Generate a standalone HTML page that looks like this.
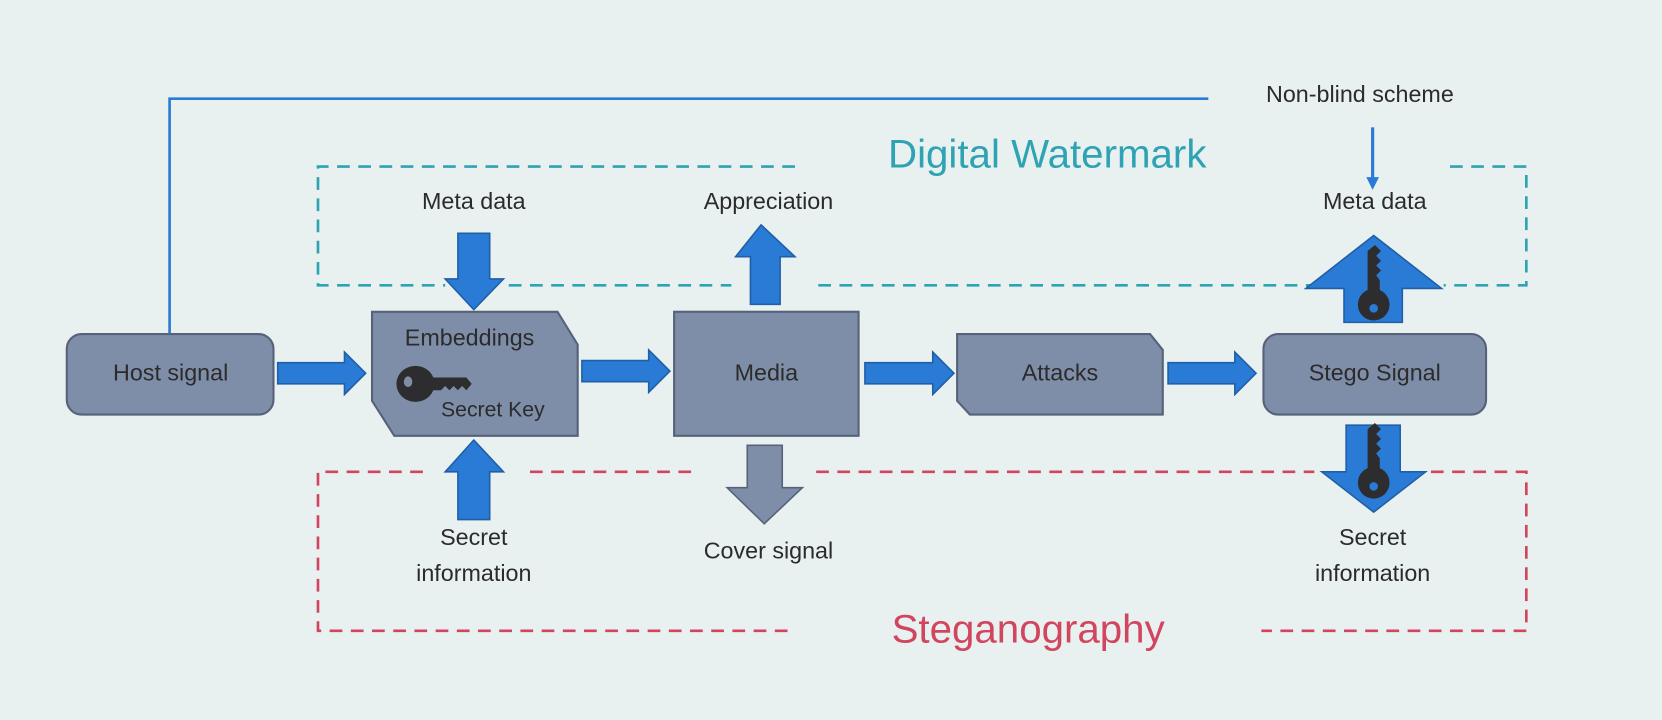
<!DOCTYPE html>
<html><head><meta charset="utf-8"><style>
html,body{margin:0;padding:0;background:#e9f0f0;}
svg{display:block;}
text{font-family:"Liberation Sans",sans-serif;fill:#2b2b2b;}
</style></head><body>
<svg width="1662" height="720" viewBox="0 0 1568 679" xmlns="http://www.w3.org/2000/svg">
<defs>
<g id="keyv">
 <circle cx="0" cy="22" r="13" fill="#2d2d2f"/>
 <circle cx="0" cy="25" r="3.5" fill="#2a7bd5"/>
 <path d="M-5,12 L-5,-22 L1,-27 L6,-22 L2,-18 L6,-14 L2,-10 L6,-6 L2,-2 L5,2 L5,12 Z" fill="#2d2d2f"/>
</g>
</defs>
<rect width="1568" height="679" fill="#e9f0f0"/>
<polyline points="160,315 160,93 1140,93" fill="none" stroke="#2a7bd5" stroke-width="2.5"/>
<text x="1283" y="96" font-size="22" text-anchor="middle">Non-blind scheme</text>
<line x1="1295" y1="120" x2="1295" y2="170" stroke="#2a7bd5" stroke-width="3"/>
<polygon points="1289,167 1301,167 1295,179" fill="#2a7bd5"/>
<text x="988" y="158" font-size="38" text-anchor="middle" style="fill:#2ea3b3">Digital Watermark</text>
<g stroke="#2ea3b3" stroke-width="2.5" stroke-dasharray="12,8" fill="none">
 <polyline points="750,157 300,157 300,269 420,269"/>
 <line x1="480" y1="269" x2="690" y2="269"/>
 <line x1="772" y1="269" x2="1240" y2="269"/>
 <polyline points="1368,157 1440,157 1440,269 1362,269"/>
</g>
<g stroke="#d2455f" stroke-width="2.5" stroke-dasharray="12,8" fill="none">
 <polyline points="399,445 300,445 300,595 750,595"/>
 <line x1="500" y1="445" x2="657" y2="445"/>
 <line x1="770" y1="445" x2="1240" y2="445"/>
 <polyline points="1350,445 1440,445 1440,595 1190,595"/>
</g>
<text x="970" y="606" font-size="38" text-anchor="middle" style="fill:#d2455f">Steganography</text>
<g font-size="22" text-anchor="middle">
<text x="447" y="197">Meta data</text>
<text x="725" y="197">Appreciation</text>
<text x="1297" y="197">Meta data</text>
<text x="447" y="514">Secret</text>
<text x="447" y="548">information</text>
<text x="725" y="527">Cover signal</text>
<text x="1295" y="514">Secret</text>
<text x="1295" y="548">information</text>
</g>
<g fill="#2a7bd5" stroke="#1f5fa8" stroke-width="1.5">
 <polygon points="432,220 462,220 462,263 475,263 447,292 420,263 432,263"/>
 <polygon points="718,212 750,242 736,242 736,287 708,287 708,242 694,242"/>
 <polygon points="1296,222 1360,272 1323,272 1323,304 1268,304 1268,272 1232,272"/>
 <polygon points="1270,401 1321,401 1321,445 1345,445 1296,483 1247,445 1270,445"/>
 <polygon points="447,415 475,445 462,445 462,490 432,490 432,445 420,445"/>
 <polygon points="262,342 325,342 325,332 345,352 325,372 325,362 262,362"/>
 <polygon points="549,340 612,340 612,330 632,350 612,370 612,360 549,360"/>
 <polygon points="816,342 880,342 880,332 900,352 880,372 880,362 816,362"/>
 <polygon points="1102,342 1165,342 1165,332 1185,352 1165,372 1165,362 1102,362"/>
</g>
<use href="#keyv" transform="translate(1296,262) scale(1.15)"/>
<use href="#keyv" transform="translate(1296,430) scale(1.15)"/>
<polygon points="705,420 738,420 738,460 757,460 721,494 686,460 705,460" fill="#7f8ea8" stroke="#56627a" stroke-width="1.5"/>
<g fill="#7f8ea8" stroke="#56627a" stroke-width="2">
 <rect x="63" y="315" width="195" height="76" rx="14"/>
 <polygon points="351,294 526,294 545,325 545,411 372,411 351,378"/>
 <rect x="636" y="294" width="174" height="117"/>
 <polygon points="903,315 1085,315 1097,330 1097,391 915,391 903,378"/>
 <rect x="1192" y="315" width="210" height="76" rx="14"/>
</g>
<g fill="#2d2d2f">
 <ellipse cx="392" cy="362" rx="18" ry="17"/>
 <ellipse cx="385" cy="360" rx="4" ry="5" fill="#7f8ea8"/>
 <path d="M405,356 L440,356 L445,362 L440,368 L436,364 L432,368 L428,364 L424,368 L420,364 L416,368 L405,368 Z"/>
</g>
<g font-size="22" text-anchor="middle">
<text x="161" y="359">Host signal</text>
<text x="443" y="326">Embeddings</text>
<text x="465" y="393" font-size="20">Secret Key</text>
<text x="723" y="359">Media</text>
<text x="1000" y="359">Attacks</text>
<text x="1297" y="359">Stego Signal</text>
</g>
</svg>
</body></html>
